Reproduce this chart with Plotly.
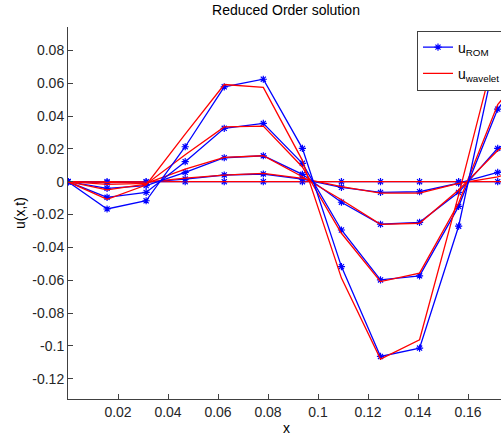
import plotly.graph_objects as go

# grid points x_i = i/64
x_vals = [i / 64 for i in range(13)]

# reduced-order model snapshots (earliest -> latest)
rom_t1 = [0, 0, 0, 0, 0, 0, 0, 0, 0, 0, 0, 0, 0]
rom_t2 = [0, -0.0006, -0.0003, 0.0016, 0.0041, 0.0047, 0.0016, -0.0034, -0.0065, -0.0061, -0.0008, 0.0057, 0.009]
rom_t3 = [0, -0.0040, -0.0024, 0.0057, 0.0146, 0.0158, 0.0045, -0.0125, -0.0259, -0.0247, -0.0065, 0.0203, 0.033]
rom_t4 = [0, -0.0095, -0.0065, 0.0122, 0.0325, 0.0355, 0.0112, -0.0294, -0.0598, -0.0573, -0.0150, 0.0442, 0.075]
rom_t5 = [0, -0.0166, -0.0116, 0.0213, 0.0578, 0.0624, 0.0203, -0.0517, -0.1064, -0.1013, -0.0271, 0.0825, 0.14]

# wavelet reference snapshots (same times)
wav_t1 = [0, 0, 0, 0, 0, 0, 0, 0, 0, 0, 0, 0, 0]
wav_t2 = [0, -0.0004, -0.0003, 0.0022, 0.0040, 0.0051, 0.0020, -0.0030, -0.0070, -0.0070, -0.0010, 0.0030, 0.009]
wav_t3 = [0, -0.0016, -0.0010, 0.0076, 0.0148, 0.0158, 0.0030, -0.0110, -0.0260, -0.0253, -0.0050, 0.0190, 0.033]
wav_t4 = [0, -0.0050, -0.0015, 0.0164, 0.0334, 0.0339, 0.0090, -0.0314, -0.0608, -0.0557, -0.0130, 0.0470, 0.075]
wav_t5 = [0, -0.0107, -0.0020, 0.0290, 0.0592, 0.0574, 0.0130, -0.0587, -0.1080, -0.0962, -0.0080, 0.0850, 0.14]

rom_series = [rom_t1, rom_t2, rom_t3, rom_t4, rom_t5]
wav_series = [wav_t1, wav_t2, wav_t3, wav_t4, wav_t5]

x_ticks = [0.02, 0.04, 0.06, 0.08, 0.1, 0.12, 0.14, 0.16]
x_tick_text = ["0.02", "0.04", "0.06", "0.08", "0.1", "0.12", "0.14", "0.16"]
y_ticks = [0.08, 0.06, 0.04, 0.02, 0, -0.02, -0.04, -0.06, -0.08, -0.1, -0.12]
y_tick_text = ["0.08", "0.06", "0.04", "0.02", "0", "-0.02", "-0.04", "-0.06", "-0.08", "-0.1", "-0.12"]

BLUE = "rgb(0,0,255)"
RED = "rgb(255,0,0)"
FONT = "Liberation Sans, Arial, sans-serif"
INK = "#262626"

fig = go.Figure()
for k, (rom, wav) in enumerate(zip(rom_series, wav_series)):
    fig.add_trace(go.Scatter(
        x=x_vals, y=rom, mode="lines+markers",
        line=dict(color=BLUE, width=1.3),
        marker=dict(symbol="asterisk-open", size=6, color=BLUE,
                    line=dict(color=BLUE, width=1.2)),
        name="u<sub>ROM</sub>", legendgroup="rom", showlegend=(k == 0),
    ))
    fig.add_trace(go.Scatter(
        x=x_vals, y=wav, mode="lines",
        line=dict(color=RED, width=1.3),
        name="u<sub>wavelet</sub>", legendgroup="wav", showlegend=(k == 0),
    ))

fig.update_layout(
    width=501, height=438,
    margin=dict(l=68, r=0, t=27, b=39, autoexpand=False),
    paper_bgcolor="white", plot_bgcolor="white",
    font=dict(family=FONT, size=14, color=INK),
    title=dict(text="Reduced Order solution", x=(286 - 68) / 433, xref="paper", xanchor="center",
               y=1 - 10 / 438, yref="container", yanchor="middle",
               font=dict(family=FONT, size=14, color="black")),
    showlegend=True,
    legend=dict(x=(417 - 68) / 433, xanchor="left", y=1 - (30.5 - 27) / 372, yanchor="top",
                bgcolor="white", bordercolor="#404040", borderwidth=1,
                font=dict(family=FONT, size=14, color="black"),
                tracegroupgap=5),
    xaxis=dict(range=[0, 433 / 2500], showgrid=False, zeroline=False,
               showline=True, linecolor="#404040", linewidth=1,
               ticks="inside", ticklen=5, tickcolor="#404040",
               tickvals=x_ticks, ticktext=x_tick_text),
    yaxis=dict(range=[-0.1323, 0.0942], showgrid=False, zeroline=False,
               showline=True, linecolor="#404040", linewidth=1,
               ticks="inside", ticklen=5, tickcolor="#404040",
               tickvals=y_ticks, ticktext=y_tick_text),
    annotations=[
        dict(text="x", xref="paper", yref="paper", x=(286 - 68) / 433, y=-(428 - 399) / 372,
             xanchor="center", yanchor="middle", showarrow=False,
             font=dict(family=FONT, size=14, color="black")),
        dict(text="u(x,t)", xref="paper", yref="paper", x=-(68 - 20) / 433, y=0.5,
             xanchor="center", yanchor="middle", textangle=-90, showarrow=False,
             font=dict(family=FONT, size=14, color="black")),
    ],
)

fig.write_html("out.html")
